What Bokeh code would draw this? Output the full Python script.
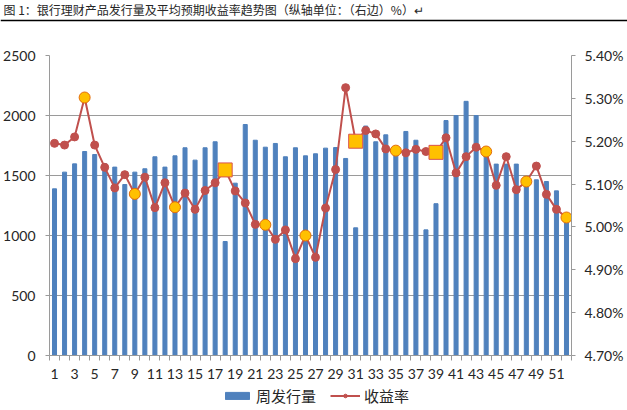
from bokeh.plotting import figure
from bokeh.models import (Range1d, LinearAxis, FixedTicker, PrintfTickFormatter,
                          Legend, LegendItem, ColumnDataSource)
from bokeh.layouts import column
from bokeh.core.properties import value
from bokeh.embed import file_html
from bokeh.resources import INLINE

title_text = "图 1：银行理财产品发行量及平均预期收益率趋势图（纵轴单位：（右边）%）↵"

weeks = list(range(1, 53))
issuance = [1389, 1528, 1597, 1700, 1675, 1597, 1570, 1425, 1528, 1556,
            1656, 1570, 1664, 1731, 1628, 1731, 1781, 950, 1436, 1925,
            1794, 1736, 1767, 1656, 1731, 1664, 1681, 1728, 1733, 1642,
            1064, 1912, 1781, 1839, 1690, 1867, 1794, 1047, 1265, 1958,
            2000, 2118, 2000, 1665, 1595, 1595, 1595, 1490, 1464, 1450,
            1372, 1140]
rates = [5.195, 5.191, 5.210, 5.302, 5.191, 5.139, 5.091, 5.122, 5.077, 5.116,
         5.045, 5.103, 5.046, 5.079, 5.041, 5.085, 5.103, 5.133, 5.084, 5.056,
         5.006, 5.005, 4.971, 4.993, 4.926, 4.980, 4.929, 5.044, 5.134, 5.325,
         5.200, 5.225, 5.217, 5.182, 5.178, 5.173, 5.181, 5.176, 5.174, 5.208,
         5.126, 5.164, 5.186, 5.176, 5.097, 5.164, 5.087, 5.106, 5.142, 5.076,
         5.041, 5.022]
circle_weeks = [4, 9, 13, 22, 26, 35, 44, 48, 52]
square_weeks = [18, 31, 39]
left_ticks = [0, 500, 1000, 1500, 2000, 2500]
right_ticks = [4.70, 4.80, 4.90, 5.00, 5.10, 5.20, 5.30, 5.40]
x_label_weeks = list(range(1, 53, 2))

series_names = ["周发行量", "收益率"]

BAR = "#4F81BD"
LINE = "#C0504D"
GRID = "#9A9A9A"
TXT = "#262626"
NUM_FONT = "Lato"
CJK = "Noto Sans CJK SC"

# ---------------- title strip ----------------
t = figure(width=627, height=22, x_range=Range1d(0, 627), y_range=Range1d(0, 22),
           min_border=0, toolbar_location=None, output_backend="svg",
           x_axis_location=None, y_axis_location=None, frame_align=False)
t.grid.visible = False
t.outline_line_color = None
t.text(x=[3], y=[13], text=[title_text], text_font=value(CJK),
       text_font_size="12px", text_baseline="middle", text_color=TXT)
t.segment(x0=[0], y0=[2], x1=[627], y1=[2], line_color="black", line_width=1.6)

# ---------------- main chart ----------------
src = ColumnDataSource(dict(week=weeks, issued=issuance, rate=rates))
csrc = ColumnDataSource(dict(week=circle_weeks, rate=[rates[w - 1] for w in circle_weeks]))
ssrc = ColumnDataSource(dict(week=square_weeks, rate=[rates[w - 1] for w in square_weeks]))

p = figure(width=627, height=363, x_range=Range1d(0.5, 52.5), y_range=Range1d(0, 2500),
           toolbar_location=None, output_backend="svg", frame_align=False,
           min_border_left=48, min_border_right=56, min_border_top=33, min_border_bottom=30)
p.extra_y_ranges = {"rate": Range1d(4.70, 5.40)}
p.outline_line_color = None
p.xgrid.visible = False
p.ygrid.grid_line_color = GRID
p.ygrid.ticker = FixedTicker(ticks=left_ticks)

xa = p.xaxis[0]
xa.ticker = FixedTicker(ticks=x_label_weeks, minor_ticks=[w - 0.5 for w in weeks] + [52.5])
xa.major_tick_line_color = None
xa.major_tick_out = 0
xa.major_tick_in = 0
xa.minor_tick_out = 5
xa.minor_tick_in = 0
xa.minor_tick_line_color = GRID
xa.axis_line_color = GRID
xa.major_label_standoff = 8
xa.major_label_text_font = NUM_FONT
xa.major_label_text_font_size = "14px"
xa.major_label_text_color = TXT

ya = p.yaxis[0]
ya.ticker = FixedTicker(ticks=left_ticks)
ya.axis_line_color = GRID
ya.major_tick_line_color = GRID
ya.major_tick_out = 4
ya.major_tick_in = 0
ya.minor_tick_line_color = None
ya.major_label_standoff = 10
ya.major_label_text_font = NUM_FONT
ya.major_label_text_font_size = "14px"
ya.major_label_text_color = TXT

ra = LinearAxis(y_range_name="rate", ticker=FixedTicker(ticks=right_ticks),
                formatter=PrintfTickFormatter(format="%.2f%%"))
ra.axis_line_color = GRID
ra.major_tick_line_color = GRID
ra.major_tick_out = 4
ra.major_tick_in = 0
ra.minor_tick_line_color = None
ra.major_label_standoff = 9
ra.major_label_text_font = NUM_FONT
ra.major_label_text_font_size = "14px"
ra.major_label_text_color = TXT
p.add_layout(ra, "right")

p.vbar(x="week", top="issued", width=0.4, source=src, fill_color=BAR, line_color=BAR)
p.line(x="week", y="rate", source=src, y_range_name="rate", line_color=LINE, line_width=2)
p.scatter(x="week", y="rate", source=src, y_range_name="rate",
          marker="circle", size=8, fill_color=LINE, line_color=LINE)
p.scatter(x="week", y="rate", source=csrc, y_range_name="rate",
          marker="circle", size=11, fill_color="#FFC000", line_color="#E46C0A", line_width=1)
p.scatter(x="week", y="rate", source=ssrc, y_range_name="rate",
          marker="square", size=14, fill_color="#FFC000", line_color="#D9534F", line_width=1)

# ---------------- legend strip ----------------
lg = figure(width=627, height=25, x_range=Range1d(0, 1), y_range=Range1d(0, 1),
            min_border=0, toolbar_location=None, output_backend="svg",
            x_axis_location=None, y_axis_location=None, frame_align=False)
lg.grid.visible = False
lg.outline_line_color = None
# off-screen key glyphs (outside the strip's ranges) that only feed the legend
key = ColumnDataSource(dict(x=[-5, -4], y=[-5, -5]))
kb = lg.vbar(x="x", top="y", width=0.4, source=key, fill_color=BAR, line_color=BAR)
kl = lg.line(x="x", y="y", source=key, line_color=LINE, line_width=2)
kp = lg.scatter(x="x", y="y", source=key, marker="circle", size=6,
                fill_color=LINE, line_color=LINE)
legend = Legend(items=[LegendItem(label=series_names[0], renderers=[kb]),
                       LegendItem(label=series_names[1], renderers=[kl, kp])],
                orientation="horizontal", location=(222, 4))
legend.border_line_color = None
legend.background_fill_alpha = 0
legend.label_text_font = CJK
legend.label_text_font_size = "15px"
legend.label_text_color = TXT
legend.glyph_width = 30
legend.glyph_height = 9
legend.label_standoff = 4
legend.spacing = 14
legend.padding = 2
legend.margin = 0
lg.add_layout(legend, "center")

layout = column(t, p, lg, spacing=0)
open("out.html", "w").write(file_html(layout, INLINE))
